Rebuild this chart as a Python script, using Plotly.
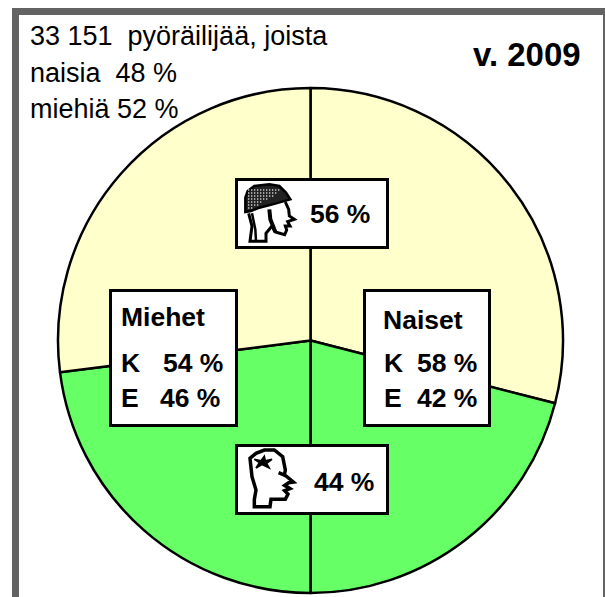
import plotly.graph_objects as go

W, H = 605, 597
slice_labels = ["Naiset K", "Naiset E", "Miehet E", "Miehet K"]
slice_values = [58, 42, 46, 54]
YELLOW, GREEN = "#FFFFCC", "#66FF66"
slice_colors = [YELLOW, GREEN, GREEN, YELLOW]
FONT = "Liberation Sans"
GRAY = "#636363"

cx, cy, r = 310.5, 340.5, 252.5

fig = go.Figure(go.Pie(
    labels=slice_labels, values=slice_values, sort=False, direction="clockwise",
    rotation=0, textinfo="none", hoverinfo="skip", showlegend=False,
    marker=dict(colors=slice_colors, line=dict(color="black", width=2.5)),
    domain=dict(x=[(cx - r) / W, (cx + r) / W], y=[1 - (cy + r) / H, 1 - (cy - r) / H]),
))

shapes, annos = [], []
def px(x): return x / W
def py(y): return 1 - y / H

def rect(x0, y0, x1, y1, fill, line=None, lw=0):
    shapes.append(dict(type="rect", xref="paper", yref="paper", x0=px(x0), x1=px(x1),
                       y0=py(y0), y1=py(y1), fillcolor=fill,
                       line=dict(color=line or fill, width=lw)))

def path(points, ox, oy, fill=None, lw=2, close=False, scale=1 / 3):
    d = "M " + " L ".join(f"{px(ox + a * scale):.5f},{py(oy + b * scale):.5f}" for a, b in points)
    if close:
        d += " Z"
    shapes.append(dict(type="path", xref="paper", yref="paper", path=d,
                       fillcolor=fill or "rgba(0,0,0,0)",
                       line=dict(color="black", width=lw)))

def text(x, y, s, size, bold=False, anchor="left"):
    annos.append(dict(xref="paper", yref="paper", x=px(x), y=py(y), text=f"<b>{s}</b>" if bold else s,
                      showarrow=False, xanchor=anchor, yanchor="middle", borderpad=0, borderwidth=0,
                      font=dict(family=FONT, size=size, color="black")))

# frame
rect(12, 8, 605, 15, GRAY)
rect(12, 8, 19, 597, GRAY)
rect(603, 8, 605, 597, GRAY)

# boxes
def box(x0, y0, x1, y1):
    rect(x0 + 1.5, y0 + 1.5, x1 - 1.5, y1 - 1.5, "white", "black", 3)
box(109, 289, 238, 427)
box(363, 289, 491, 427)
box(235, 178, 389, 249)
box(235, 444, 389, 515)

# helmet head (icon, local 3x coordinates of a crop)
ox, oy = 236, 176
path([(100, 100), (103, 130), (118, 168)], ox, oy, lw=4)
path([(148, 78), (158, 100), (160, 120), (175, 130), (155, 137), (162, 150), (148, 150), (152, 162),
      (146, 176), (118, 168), (108, 150), (90, 172), (90, 196), (42, 196), (48, 150), (38, 112)], ox, oy, lw=3)
path([(60, 195), (58, 160), (48, 112)], ox, oy, lw=2.5)
helmet = [(28, 65), (35, 45), (55, 30), (100, 25), (130, 30), (150, 50), (163, 70), (110, 85), (70, 95), (45, 105), (28, 108)]
path(helmet, ox, oy, fill="#222222", lw=2.5, close=True)
for row in range(40, 100, 9):
    for col in range(36, 130, 9):
        limit = 130 - (row - 40) * 1.6
        top_ok = row + 3 < 38 + (col - 36) * 1.5 + 10 or row > 44
        if col <= limit + 8 and top_ok:
            shapes.append(dict(type="rect", xref="paper", yref="paper",
                               x0=px(ox + col / 3), x1=px(ox + (col + 4) / 3),
                               y0=py(oy + row / 3), y1=py(oy + (row + 4) / 3),
                               fillcolor="#cccccc", line=dict(width=0)))

# bare head
ox, oy = 236, 440
path([(55, 200), (55, 178), (60, 150), (48, 110), (42, 55), (60, 40), (85, 30), (115, 30), (140, 50), (148, 90),
      (145, 105), (128, 98), (150, 108), (172, 126), (158, 128), (146, 136), (162, 146), (146, 152), (156, 162),
      (148, 178), (105, 178), (102, 200), (55, 200)], ox, oy, lw=3.5, close=True)
path([(55, 58), (75, 62), (85, 48), (88, 62), (108, 58), (92, 70), (100, 84), (78, 74), (60, 84), (70, 68)],
     ox, oy, fill="black", lw=1.5, close=True)

# texts
text(30, 36, "33 151  pyöräilijää, joista", 27)
text(30, 73, "naisia  48 %", 27)
text(30, 109, "miehiä 52 %", 27)
text(473, 55, "v. 2009", 33, bold=True)

text(121, 317, "Miehet", 26.5, bold=True)
text(121, 363, "K", 26.5, bold=True)
text(163, 363, "54 %", 26.5, bold=True)
text(121, 398, "E", 26.5, bold=True)
text(160, 398, "46 %", 26.5, bold=True)

text(383, 320, "Naiset", 26.5, bold=True)
text(384, 363, "K", 26.5, bold=True)
text(417, 363, "58 %", 26.5, bold=True)
text(384, 398, "E", 26.5, bold=True)
text(417, 398, "42 %", 26.5, bold=True)

text(310, 214, "56 %", 26.5, bold=True)
text(314, 482, "44 %", 26.5, bold=True)

fig.update_layout(width=W, height=H, margin=dict(l=0, r=0, t=0, b=0), autosize=False,
                  paper_bgcolor="white", shapes=shapes, annotations=annos)
fig.write_html("out.html", config=dict(displayModeBar=False),
               post_script="document.body.style.margin='0';document.body.style.overflow='hidden';")
